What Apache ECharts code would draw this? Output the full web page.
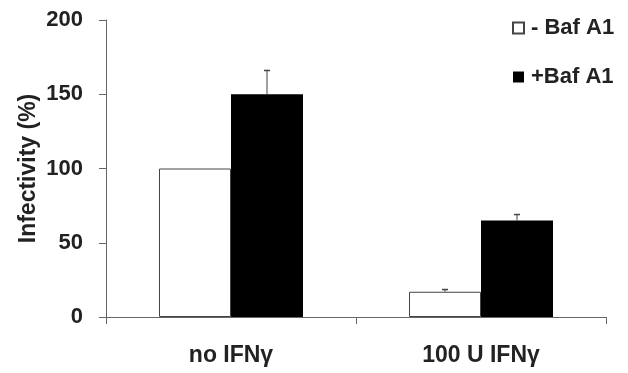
<!DOCTYPE html>
<html>
<head>
<meta charset="utf-8">
<script src="https://cdn.jsdelivr.net/npm/echarts@6/dist/echarts.min.js"></script>
<style>
  html, body { margin: 0; padding: 0; background: #fff; }
  #main { width: 628px; height: 373px; }
</style>
</head>
<body>
<div id="main"></div>
<script>
// 数据
var categories = ['no IFNγ', '100 U IFNγ'];
var minusBaf = [100, 17];
var minusBafErr = [0, 1.5];
var plusBaf = [150, 65];
var plusBafErr = [16, 4];

var myChart = echarts.init(document.getElementById('main'));
var font = 'Liberation Sans, Arial, sans-serif';

// 误差线：只画向上的一半
function errorBar(values, errs, side) {
  var data = values.map(function (v, i) { return [i, v, v + errs[i]]; });
  return {
    type: 'custom',
    z: 3,
    silent: true,
    data: data,
    renderItem: function (params, api) {
      var idx = api.value(0);
      var band = api.size([1, 0])[0];
      var bottom = api.coord([idx, api.value(1)]);
      var top = api.coord([idx, api.value(2)]);
      var x = bottom[0] + side * band * 0.144;
      if (api.value(2) - api.value(1) <= 0) return null;
      return {
        type: 'group',
        children: [
          { type: 'line', shape: { x1: x, y1: bottom[1], x2: x, y2: top[1] },
            style: { stroke: '#444', lineWidth: 1 } },
          { type: 'line', shape: { x1: x - 3, y1: top[1], x2: x + 3, y2: top[1] },
            style: { stroke: '#444', lineWidth: 1.5 } }
        ]
      };
    }
  };
}

var option = {
  animation: false,
  grid: { left: 106, right: 22, top: 20, bottom: 56 },
  legend: {
    orient: 'vertical',
    left: 507,
    top: 12,
    itemWidth: 11,
    itemHeight: 11,
    itemGap: 27,
    icon: 'rect',
    textStyle: { fontFamily: font, fontWeight: 'bold', fontSize: 22, color: '#222', padding: [0, 0, 0, 2] },
    data: ['- Baf A1', '+Baf A1']
  },
  xAxis: {
    type: 'category',
    data: categories,
    axisLine: { lineStyle: { color: '#666', width: 1 } },
    axisTick: { show: true, length: 7, lineStyle: { color: '#666' } },
    axisLabel: { fontFamily: font, fontWeight: 'bold', fontSize: 23, color: '#222', margin: 27 }
  },
  yAxis: {
    type: 'value',
    min: 0,
    max: 200,
    interval: 50,
    name: 'Infectivity (%)',
    nameLocation: 'middle',
    nameGap: 66,
    nameMoveOverlap: false,
    nameTextStyle: { fontFamily: font, fontWeight: 'bold', fontSize: 23, color: '#222' },
    axisLine: { show: true, lineStyle: { color: '#666', width: 1 } },
    axisTick: { show: true, length: 7, lineStyle: { color: '#666' } },
    splitLine: { show: false },
    axisLabel: { fontFamily: font, fontWeight: 'bold', fontSize: 22, color: '#222', margin: 23 }
  },
  series: [
    {
      name: '- Baf A1',
      type: 'bar',
      data: minusBaf,
      barWidth: '28.8%',
      barGap: '0%',
      itemStyle: { color: '#fff', borderColor: '#444', borderWidth: 1 }
    },
    {
      name: '+Baf A1',
      type: 'bar',
      data: plusBaf,
      barWidth: '28.8%',
      barGap: '0%',
      itemStyle: { color: '#000', borderColor: '#000', borderWidth: 0 }
    },
    errorBar(minusBaf, minusBafErr, -1),
    errorBar(plusBaf, plusBafErr, 1)
  ]
};

myChart.setOption(option);
</script>
</body>
</html>
